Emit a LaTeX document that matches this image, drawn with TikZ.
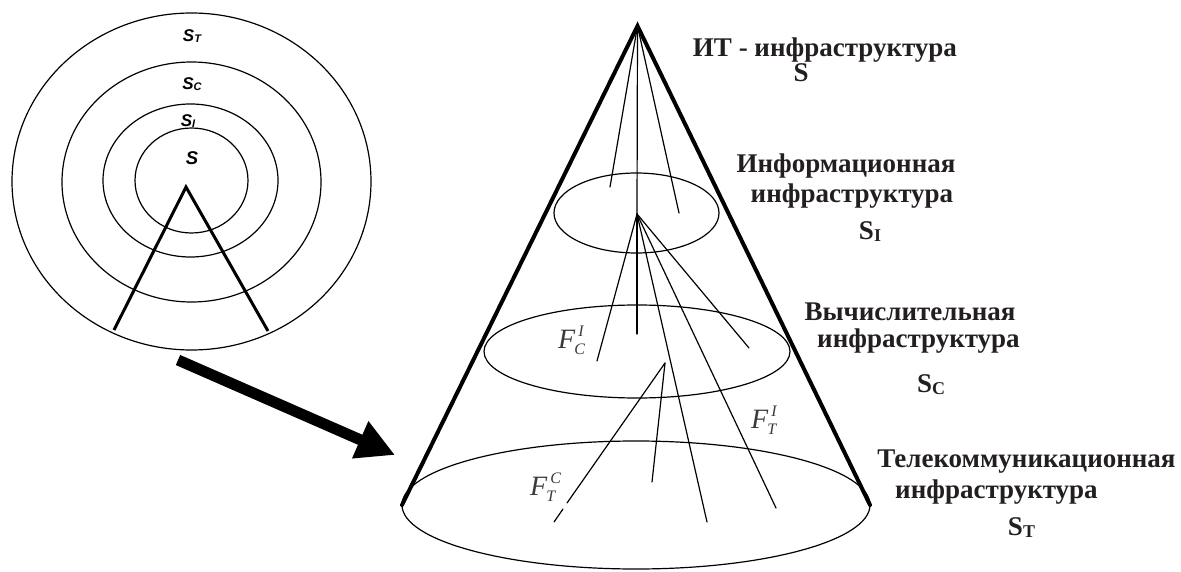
\documentclass[tikz,border=0pt]{standalone}
\usepackage{fontspec}
\setmainfont{Liberation Serif}
\newfontfamily\arialfont{Liberation Sans}
\usetikzlibrary{arrows.meta}
\definecolor{ink}{HTML}{231F20}
\definecolor{flabcol}{HTML}{3A3A3A}
\newcommand{\Flab}[2]{F\rlap{\kern3pt\raisebox{12pt}{\fontsize{16}{16}\selectfont #2}}\kern-1pt\raisebox{-6pt}{\fontsize{16}{16}\selectfont #1}}
\newcommand{\RuSub}[2]{#1{\fontsize{18}{18}\selectfont\raisebox{-2pt}{#2}}}
\newcommand{\CiSub}[2]{#1{\fontsize{11}{11}\selectfont\raisebox{-1pt}{#2}}}
\tikzset{
  fineline/.style={line width=1.2pt, line cap=round},
  ellline/.style={line width=1.2pt},
  heavyline/.style={line width=4pt, line cap=round},
  smallcone/.style={line width=3pt},
  bigarrow/.style={line width=11pt, -{Triangle[length=38pt,width=38pt]}},
  rulabel/.style={font=\fontsize{27}{30}\selectfont\bfseries, text=ink, anchor=base, inner sep=0pt},
  flab/.style={font=\fontsize{28}{30}\selectfont\itshape, text=flabcol, anchor=base west, inner sep=0pt},
  circlab/.style={font=\arialfont\fontsize{17}{19}\selectfont\bfseries\itshape, anchor=base, inner sep=0pt},
}
\begin{document}
\begin{tikzpicture}[x=1pt,y=-1pt]
\useasboundingbox (0,0) rectangle (1181,572);

% ---------- left: concentric rings ----------
\draw[ellline] (191.5,181.5) ellipse [x radius=179.5pt, y radius=168.5pt];
\draw[ellline] (191.5,182) ellipse [x radius=129.5pt, y radius=120pt];
\draw[ellline] (190.5,180.5) ellipse [x radius=87.5pt, y radius=76.5pt];
\draw[ellline] (191.5,180.5) ellipse [x radius=56.5pt, y radius=52.5pt];

\node[circlab] (lST) at (192,42) {\CiSub{S}{T}};
\node[circlab] (lSC) at (192,90) {\CiSub{S}{C}};
\node[circlab] (lSI) at (188,127) {\CiSub{S}{I}};
\node[circlab, font=\arialfont\fontsize{18.5}{20}\selectfont\bfseries\itshape] (lS) at (192,165) {S};

\coordinate (sApex) at (186,187);
\coordinate (sLeft) at (114,330);
\coordinate (sRight) at (268,331);
\draw[smallcone] (sLeft) -- (sApex) -- (sRight);

% ---------- arrow ----------
\coordinate (aStart) at (178,360);
\coordinate (aEnd) at (395,455);
\draw[bigarrow] (aStart) -- (aEnd);

% ---------- right: cone ----------
\coordinate (apex) at (637.5,26);
\coordinate (bl) at (402,505);
\coordinate (br) at (870,505);

\draw[ellline] (636,505) ellipse [x radius=234pt, y radius=64pt];
\draw[ellline] (637,351.5) ellipse [x radius=153pt, y radius=46.5pt];
\draw[ellline] (636.5,213) ellipse [x radius=82.5pt, y radius=40pt];

\draw[heavyline] (bl) -- (apex) -- (br);

% fine lines from the apex
\coordinate (t1) at (610,187);
\coordinate (t3) at (679,213);
\coordinate (hub1) at (637,214);
\draw[fineline] (apex) -- (t1);
\draw[fineline] (apex) -- (hub1);
\draw[fineline] (apex) -- (t3);

% fine lines from the first hub
\coordinate (h1a) at (597,361);
\coordinate (h1b) at (637,334);
\coordinate (h1c) at (707,522);
\coordinate (h1d) at (776,508);
\coordinate (h1e) at (749,348);
\draw[fineline] (hub1) -- (h1a);
\draw[fineline] (hub1) -- (h1b);
\draw[fineline] (hub1) -- (h1c);
\draw[fineline] (hub1) -- (h1d);
\draw[fineline] (hub1) -- (h1e);

% fine lines from the second hub
\coordinate (hub2) at (665,363);
\coordinate (h2a) at (652,482);
\coordinate (h2b) at (567,503);
\coordinate (g1) at (563,509);
\coordinate (g2) at (554,522);
\draw[fineline] (hub2) -- (h2a);
\draw[fineline] (hub2) -- (h2b);
\draw[fineline] (g1) -- (g2);

% F labels
\node[flab] (fCI) at (558,348) {\Flab{C}{I}};
\node[flab] (fTI) at (751,428) {\Flab{T}{I}};
\node[flab] (fTC) at (530,495) {\Flab{T}{C}};

% ---------- right-hand texts ----------
\node[rulabel] (it1) at (825,57) {ИТ - инфраструктура};
\node[rulabel] (it2) at (801,82) {S};

\node[rulabel] (inf1) at (846,173) {Информационная};
\node[rulabel] (inf2) at (852,203) {инфраструктура};
\node[rulabel] (inf3) at (870,240) {\RuSub{S}{I}};

\node[rulabel] (vy1) at (910,320) {Вычислительная};
\node[rulabel] (vy2) at (918.5,347) {инфраструктура};
\node[rulabel] (vy3) at (931,392) {\RuSub{S}{C}};

\node[rulabel] (te1) at (1026.5,467) {Телекоммуникационная};
\node[rulabel] (te2) at (996.5,498) {инфраструктура};
\node[rulabel] (te3) at (1021.5,535) {\RuSub{S}{T}};
\end{tikzpicture}
\end{document}
